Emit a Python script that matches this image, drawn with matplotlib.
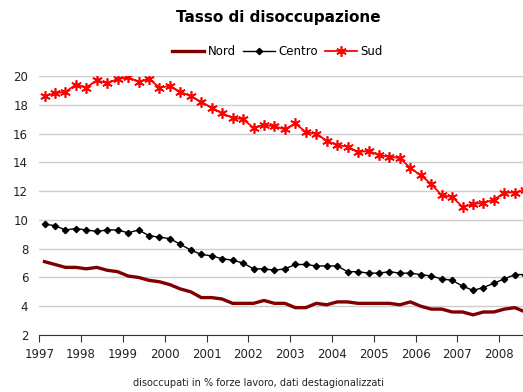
import numpy as np
import matplotlib
matplotlib.use("Agg")
from matplotlib import pyplot as plt

# tassi trimestrali 1997 T1 - 2008 T3
nord = [7.1, 6.9, 6.7, 6.7, 6.6, 6.7, 6.5, 6.4, 6.1, 6.0, 5.8, 5.7, 5.5, 5.2, 5.0, 4.6,
        4.6, 4.5, 4.2, 4.2, 4.2, 4.4, 4.2, 4.2, 3.9, 3.9, 4.2, 4.1, 4.3, 4.3, 4.2, 4.2,
        4.2, 4.2, 4.1, 4.3, 4.0, 3.8, 3.8, 3.6, 3.6, 3.4, 3.6, 3.6, 3.8, 3.9, 3.6]
centro = [9.7, 9.6, 9.3, 9.4, 9.3, 9.2, 9.3, 9.3, 9.1, 9.3, 8.9, 8.8, 8.7, 8.3, 7.9, 7.6,
          7.5, 7.3, 7.2, 7.0, 6.6, 6.6, 6.5, 6.6, 6.9, 6.9, 6.8, 6.8, 6.8, 6.4, 6.4, 6.3,
          6.3, 6.4, 6.3, 6.3, 6.2, 6.1, 5.9, 5.8, 5.4, 5.1, 5.3, 5.6, 5.9, 6.2, 6.2]
sud = [18.6, 18.8, 18.9, 19.4, 19.2, 19.7, 19.5, 19.8, 19.9, 19.6, 19.8, 19.2, 19.3, 18.9, 18.6, 18.2,
       17.8, 17.4, 17.1, 17.0, 16.4, 16.6, 16.5, 16.3, 16.7, 16.1, 16.0, 15.5, 15.2, 15.1, 14.7, 14.8,
       14.5, 14.4, 14.3, 13.6, 13.1, 12.5, 11.7, 11.6, 10.9, 11.1, 11.2, 11.4, 11.9, 11.9, 12.1]
anni = list(range(1997, 2009))

# ogni trimestre al centro del suo intervallo
t = 1997.125 + 0.25 * np.arange(len(nord))

fig = plt.figure(figsize=(5.23, 3.92), dpi=100)
ax = fig.add_axes([0.0751, 0.1454, 0.9249, 0.6607])

ax.plot(t, nord, color="#800000", lw=2.4, label="Nord")
ax.plot(t, centro, color="black", lw=1, marker="D", ms=3.2, label="Centro")
ax.plot(t, sud, color="#ff0000", lw=1.3, marker=(6, 2, 0), ms=7.5, mew=1.2, label="Sud")

ax.set_xlim(1997, 2008.57)
ax.set_ylim(2, 20)
ax.set_yticks(range(2, 21, 2))
ax.set_xticks(anni)
ax.grid(axis="y", color="#cccccc", lw=1)
ax.set_axisbelow(True)
for s in ["top", "right", "left"]:
    ax.spines[s].set_visible(False)
ax.spines["bottom"].set_color("#333333")
ax.tick_params(axis="y", length=0, labelsize=8.5, colors="#222222", pad=8)
ax.tick_params(axis="x", length=5, direction="out", labelsize=8.5, colors="#222222", pad=4)
ax.tick_params(axis="x", color="#333333")

fig.text(0.532, 0.955, "Tasso di disoccupazione", ha="center", va="center",
         fontsize=11, fontweight="bold")
fig.text(0.495, 0.022, "disoccupati in % forze lavoro, dati destagionalizzati",
         ha="center", va="center", fontsize=7, color="#222222")

ax.legend(loc="center", bbox_to_anchor=(0.493, 1.093), ncol=3, frameon=False,
          fontsize=8.5, handlelength=2.7, columnspacing=0.6, handletextpad=0.3)

fig.savefig("out.png", dpi=100)
